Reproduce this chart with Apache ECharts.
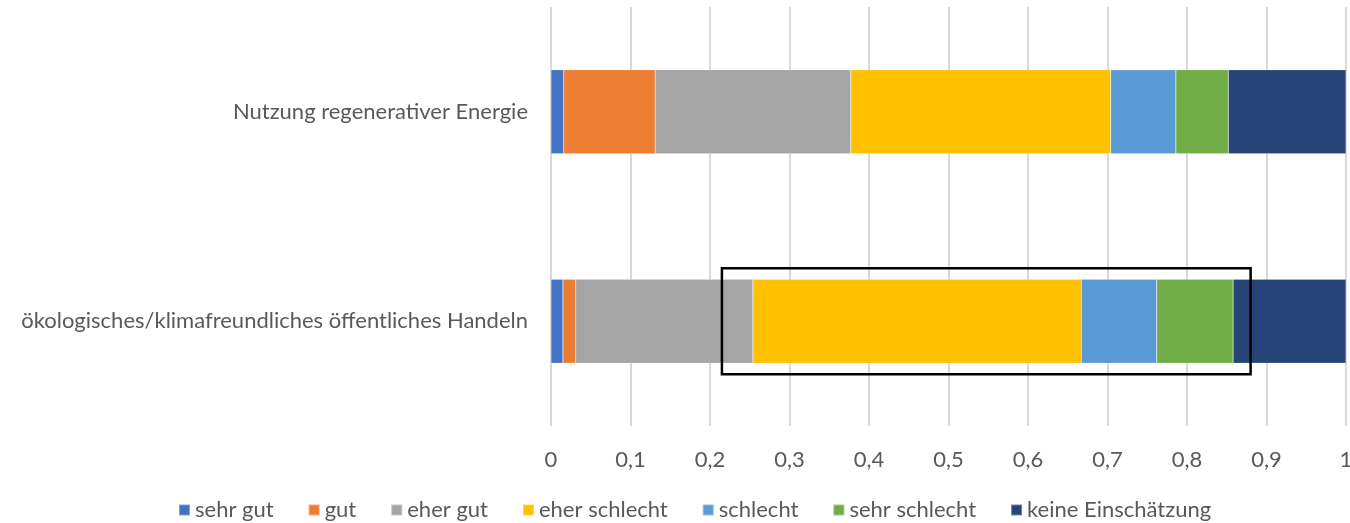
<!DOCTYPE html>
<html>
<head>
<meta charset="utf-8">
<script src="https://cdn.jsdelivr.net/npm/echarts@6/dist/echarts.min.js"></script>
<style>
  html, body { margin: 0; padding: 0; background: #fff; }
  #main { width: 1350px; height: 523px; }
</style>
</head>
<body>
<div id="main"></div>
<script>
const categories = ["ökologisches/klimafreundliches öffentliches Handeln", "Nutzung regenerativer Energie"];
const seriesNames = ["sehr gut", "gut", "eher gut", "eher schlecht", "schlecht", "sehr schlecht", "keine Einschätzung"];
const colors = ["#4472C4", "#ED7D31", "#A5A5A5", "#FFC000", "#5B9BD5", "#70AD47", "#264478"];

// one array per answer: [ökologisches..., Nutzung...]
const sehrGut = [0.015, 0.016];
const gut = [0.016, 0.115];
const eherGut = [0.223, 0.246];
const eherSchlecht = [0.413, 0.327];
const schlecht = [0.095, 0.082];
const sehrSchlecht = [0.096, 0.066];
const keine = [0.142, 0.148];
const values = [sehrGut, gut, eherGut, eherSchlecht, schlecht, sehrSchlecht, keine];

// highlight box around the bottom bar (x range in axis units)
const boxFrom = 0.215;
const boxTo = 0.88;

const fontFamily = "Lato, sans-serif";
const textColor = "#595959";

const chart = echarts.init(document.getElementById("main"));

const option = {
  animation: false,
  color: colors,
  textStyle: { fontFamily: fontFamily },
  grid: { left: 551, right: 4, top: 7, bottom: 97, outerBoundsMode: "none" },
  legend: {
    top: 494,
    left: 173,
    itemWidth: 11,
    itemHeight: 11,
    itemGap: 34,
    icon: "rect",
    textStyle: { color: textColor, fontSize: 22, fontFamily: fontFamily },
    data: seriesNames
  },
  xAxis: {
    type: "value",
    min: 0,
    max: 1,
    interval: 0.1,
    axisLine: { show: false },
    axisTick: { show: false },
    splitLine: { lineStyle: { color: "#D9D9D9", width: 2 } },
    axisLabel: {
      color: textColor,
      fontSize: 22,
      margin: 23,
      formatter: (v) => String(Math.round(v * 10) / 10).replace(".", ",")
    }
  },
  yAxis: {
    type: "category",
    data: categories,
    axisLine: { show: false },
    axisTick: { show: false },
    axisLabel: { color: textColor, fontSize: 22, margin: 23 }
  },
  series: seriesNames.map((name, i) => ({
    name: name,
    type: "bar",
    stack: "total",
    barWidth: 84,
    data: values[i],
    itemStyle: { borderColor: "rgba(255,255,255,0.35)", borderWidth: 0.5 }
  }))
};

chart.setOption(option);

const p0 = chart.convertToPixel({ xAxisIndex: 0, yAxisIndex: 0 }, [boxFrom, categories[0]]);
const p1 = chart.convertToPixel({ xAxisIndex: 0, yAxisIndex: 0 }, [boxTo, categories[0]]);
chart.setOption({
  graphic: [{
    type: "rect",
    shape: { x: p0[0], y: p0[1] - 53, width: p1[0] - p0[0], height: 106 },
    style: { fill: "none", stroke: "#000", lineWidth: 2.5 },
    z: 100
  }]
});
</script>
</body>
</html>
